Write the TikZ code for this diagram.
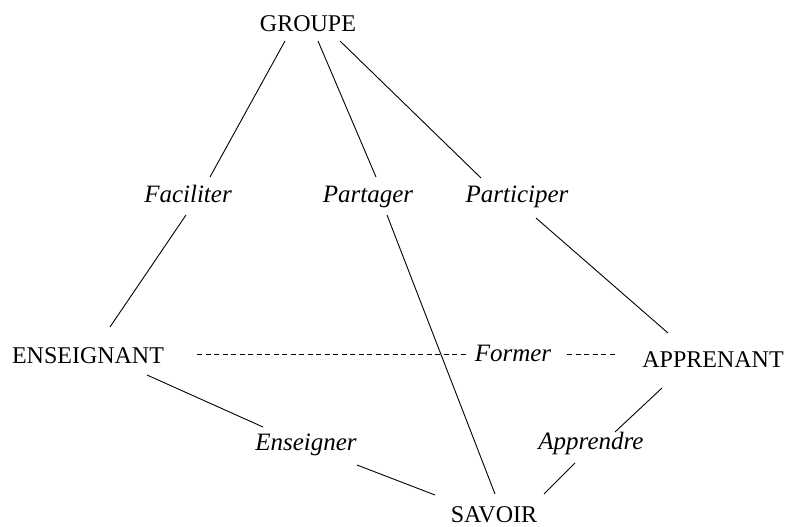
\documentclass[tikz,border=0pt]{standalone}
\usepackage{fontspec}
\setmainfont{Liberation Serif}
\usetikzlibrary{calc}
\begin{document}
\begin{tikzpicture}[x=1pt,y=-1pt,
    pole/.style={anchor=base, inner sep=0pt, font=\fontsize{24}{26}\selectfont},
    verbe/.style={anchor=base, inner sep=0pt, font=\fontsize{25}{27}\selectfont\itshape},
    lien/.style={black, line width=0.9pt},
    pointille/.style={black, line width=0.9pt, dash pattern=on 5pt off 3.5pt}]
    \useasboundingbox (0,0) rectangle (785,527);

    % The four poles
    \node[pole] (groupe) at (308,32) {GROUPE};
    \node[pole] (ens) at (88,363) {ENSEIGNANT};
    \node[pole] (app) at (713,367) {APPRENANT};
    \node[pole] (savoir) at (494,522) {SAVOIR};

    % The verbs on the links
    \node[verbe] (fac) at (188,202) {Faciliter};
    \node[verbe] (part) at (368,202) {Partager};
    \node[verbe] (parti) at (517,202) {Participer};
    \node[verbe] (former) at (513,361) {Former};
    \node[verbe] (enseig) at (306,450) {Enseigner};
    \node[verbe] (appr) at (591,449) {Apprendre};

    % Links from the group
    \draw[lien] ($(groupe.base)+(-23,9)$) -- ($(fac.base)+(22,-25)$);
    \draw[lien] ($(fac.base)+(-2,13)$) -- ($(ens.base)+(22,-36)$);
    \draw[lien] ($(groupe.base)+(10,9)$) -- ($(part.base)+(8,-25)$);
    \draw[lien] ($(part.base)+(19,13)$) -- ($(savoir.base)+(1,-28)$);
    \draw[lien] ($(groupe.base)+(32,9)$) -- ($(parti.base)+(-36,-24)$);
    \draw[lien] ($(parti.base)+(19,16)$) -- ($(app.base)+(-45,-34)$);

    % Teacher and learner
    \draw[pointille] ($(ens.base)+(109,-9)$) -- ($(former.base)+(-45,-7)$);
    \draw[pointille] ($(former.base)+(54,-7)$) -- ($(app.base)+(-98,-13)$);

    % Links to knowledge
    \draw[lien] ($(ens.base)+(59,12)$) -- ($(enseig.base)+(-43,-23)$);
    \draw[lien] ($(enseig.base)+(51,15)$) -- ($(savoir.base)+(-59,-27)$);
    \draw[lien] ($(app.base)+(-51,21)$) -- ($(appr.base)+(24,-17)$);
    \draw[lien] ($(appr.base)+(-16,14)$) -- ($(savoir.base)+(50,-28)$);
\end{tikzpicture}
\end{document}
